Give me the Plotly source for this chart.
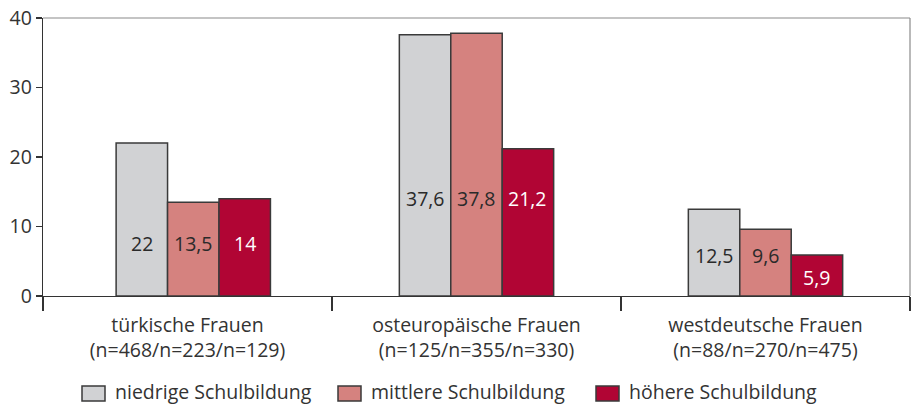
import plotly.graph_objects as go

categories = ["türkische Frauen", "osteuropäische Frauen", "westdeutsche Frauen"]
sample_sizes = ["(n=468/n=223/n=129)", "(n=125/n=355/n=330)", "(n=88/n=270/n=475)"]
series_names = ["niedrige Schulbildung", "mittlere Schulbildung", "höhere Schulbildung"]
niedrige = [22, 37.6, 12.5]
mittlere = [13.5, 37.8, 9.6]
hoehere = [14, 21.2, 5.9]
y_ticks = [0, 10, 20, 30, 40]

# label heights (data units) for the value labels drawn inside the bars
label_y = [[7.5, 7.5, 7.5], [14.1, 14.1, 14.1], [5.9, 5.9, 2.7]]

colors = ["#d1d2d4", "#d5827f", "#b10534"]
text_colors = ["#2a2a2a", "#2a2a2a", "#ffffff"]
FONT = "Open Sans"
FS = 19.5
TXT = "#333333"

W, H = 914, 405
ML, MR, MT, MB = 43, 4, 18, 109
PW, PH = W - ML - MR, H - MT - MB

# bar layout (category units)
BAR_W = 0.178
group_shift = [0.02, 0.0, 0.0]

def px_x(px):
    return (px - ML) / PW

def px_y(py):
    return (H - MB - py) / PH

xlabels = [f"{c}<br>{n}" for c, n in zip(categories, sample_sizes)]
values = [niedrige, mittlere, hoehere]

fig = go.Figure()
for si, (name, vals, col) in enumerate(zip(series_names, values, colors)):
    offs = [-1.5 * BAR_W + si * BAR_W + s for s in group_shift]
    fig.add_trace(go.Bar(
        x=xlabels, y=vals, name=name, showlegend=False,
        width=BAR_W, offset=offs,
        marker=dict(color=col, line=dict(color="#3a3a3a", width=1.5)),
        hoverinfo="skip",
    ))

def fmt(v):
    return f"{v:g}".replace(".", ",")

for si, vals in enumerate(values):
    for ci, v in enumerate(vals):
        fig.add_annotation(
            x=ci - 1.5 * BAR_W + si * BAR_W + BAR_W / 2 + group_shift[ci], xref="x",
            y=label_y[ci][si], yref="y",
            text=fmt(v), showarrow=False,
            font=dict(family=FONT, size=FS, color=text_colors[si]),
        )

# top and right frame lines (grey)
fig.add_shape(type="line", xref="paper", yref="paper", x0=0, x1=1, y0=1, y1=1,
              line=dict(color="#8a8a8a", width=1.2))
fig.add_shape(type="line", xref="paper", yref="paper", x0=1, x1=1, y0=0, y1=1,
              line=dict(color="#8a8a8a", width=1.2))

# manual legend (swatch + label) below the plot
legend_swatch_left = [82, 338, 596]
for name, col, sx in zip(series_names, colors, legend_swatch_left):
    fig.add_shape(type="rect", xref="paper", yref="paper",
                  x0=px_x(sx), x1=px_x(sx + 23), y0=px_y(401), y1=px_y(386),
                  fillcolor=col, line=dict(color="#3a3a3a", width=1.5))
    fig.add_annotation(xref="paper", yref="paper", x=px_x(sx + 32), y=px_y(391),
                       xanchor="left", yanchor="middle", showarrow=False,
                       borderpad=0,
                       text=name, font=dict(family=FONT, size=FS, color=TXT))

fig.update_layout(
    width=W, height=H,
    margin=dict(l=ML, r=MR, t=MT, b=MB),
    paper_bgcolor="white", plot_bgcolor="white",
    barmode="overlay",
    font=dict(family=FONT, size=FS, color=TXT),
    showlegend=False,
    xaxis=dict(
        type="category", tickson="boundaries", ticks="outside", ticklen=14,
        tickcolor=TXT, tickwidth=1.2, automargin=False,
        showline=True, linecolor=TXT, linewidth=1.2, range=[-0.5, 2.5],
        showgrid=False, zeroline=False, ticklabelstandoff=11,
        tickfont=dict(family=FONT, size=FS, color=TXT),
    ),
    yaxis=dict(
        range=[0, 40], tickvals=y_ticks, ticks="outside", ticklen=6,
        tickcolor=TXT, tickwidth=1.2, automargin=False,
        showline=True, linecolor=TXT, linewidth=1.2,
        showgrid=False, zeroline=False, ticklabelstandoff=0,
        tickfont=dict(family=FONT, size=FS, color=TXT),
    ),
)

fig.write_html(
    "out.html",
    config={"displayModeBar": False, "staticPlot": True},
    post_script="document.body.style.margin='0';document.body.style.overflow='hidden';",
)
